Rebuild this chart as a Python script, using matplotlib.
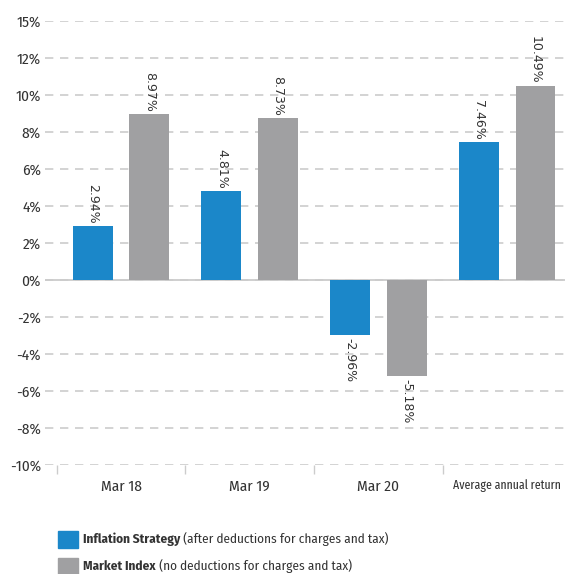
import matplotlib.pyplot as plt
from matplotlib.patches import Rectangle
import numpy as np

# chart data
periods = ['Mar 18', 'Mar 19', 'Mar 20', 'Average annual return']
strategy = [2.94, 4.81, -2.96, 7.46]
market = [8.97, 8.73, -5.18, 10.49]
ytick_vals = [-10, -8, -6, -4, -2, 0, 2, 4, 6, 8, 10, 12, 14]
ytick_labels = ['-10%', '-8%', '-6%', '-4%', '-2%', '0%', '2%', '4%',
                '6%', '8%', '10%', '12%', '15%']
legend_bold = ['Inflation Strategy', 'Market Index']
legend_rest = [' (after deductions for charges and tax)',
               ' (no deductions for charges and tax)']

BLUE = '#1b87c9'
GREY = '#a0a0a2'
TXT = '#333333'
LINE = '#cccccc'
NARROW = ['Fira Sans Condensed', 'DejaVu Sans']

W, H = 565, 574
fig = plt.figure(figsize=(W / 100, H / 100), dpi=100)

# axes runs past the right edge, the original is cropped there too
left_px, top_px, bot_px = 45, 21, 465
ppu = 128.7  # pixels per group
xmin = -0.5 - (56.7 - left_px) / ppu
xmax = 3.7
ax = fig.add_axes([left_px / W, 1 - bot_px / H,
                   (xmax - xmin) * ppu / W, (bot_px - top_px) / H])

x = np.arange(len(periods))
bw = 0.31
off = 0.22
b1 = ax.bar(x - off, strategy, bw, color=BLUE, zorder=3)
b2 = ax.bar(x + off, market, bw, color=GREY, zorder=3)

for bars, vals in [(b1, strategy), (b2, market)]:
    for rect, v in zip(bars, vals):
        cx = rect.get_x() + rect.get_width() / 2
        if v >= 0:
            ax.text(cx, v + 0.12, '{:.2f}%'.format(v), rotation=270,
                    ha='center', va='bottom', fontsize=9, color=TXT,
                    family='DejaVu Sans')
        else:
            ax.text(cx, v - 0.15, '{:.2f}%'.format(v), rotation=270,
                    ha='center', va='top', fontsize=9, color=TXT,
                    family='DejaVu Sans')

ax.set_xlim(xmin, xmax)
ax.set_ylim(-10, 14)
ax.set_yticks(ytick_vals)
ax.set_yticklabels(ytick_labels, family=NARROW, fontsize=11, color=TXT)
ax.set_xticks(x)
ax.set_xticklabels(periods, family=NARROW, fontsize=11, color=TXT)
# last label is cut by the page edge in the original, squeeze it in here
last = ax.get_xticklabels()[-1]
last.set_family(['Fira Sans Extra Condensed', 'DejaVu Sans'])
last.set_fontsize(9.2)
ax.set_xticks(np.arange(len(periods) + 1) - 0.5, minor=True)
ax.tick_params(axis='x', which='major', length=0, pad=10.5)
ax.tick_params(axis='x', which='minor', length=6.5, width=1, color=LINE)
ax.tick_params(axis='y', length=0, pad=3)

ax.set_axisbelow(True)
ax.yaxis.grid(True, linestyle=(0, (5, 4)), color=LINE, linewidth=1.2)
ax.axhline(0, color=LINE, linewidth=1.3, zorder=2)
for s in ax.spines.values():
    s.set_visible(False)

# hand-made legend under the chart
rows_y = [539, 566]
for col, yb, bold, rest in zip([BLUE, GREY], rows_y, legend_bold, legend_rest):
    fig.patches.append(Rectangle((58 / W, 1 - (yb + 9) / H), 20 / W, 17 / H,
                                 transform=fig.transFigure, color=col))
    t = fig.text(83 / W, 1 - yb / H, bold, fontsize=9.5, fontweight='bold',
                 family=NARROW, color=TXT, va='center')
    fig.add_artist(plt.Annotation(rest, xy=(1, 0.5), xycoords=t,
                                  fontsize=9.5, family=NARROW, color=TXT,
                                  va='center', ha='left'))

fig.savefig('out.png', dpi=100)
